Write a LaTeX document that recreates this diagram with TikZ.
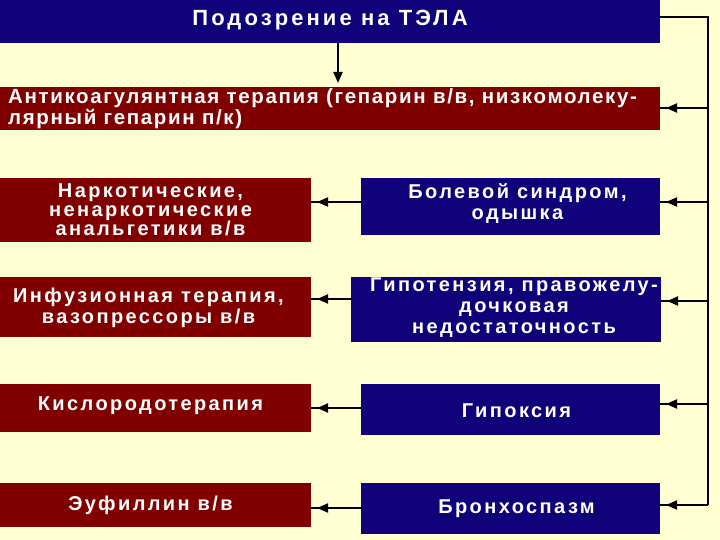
\documentclass[tikz,border=0pt]{standalone}
\usepackage{fontspec}
\setmainfont{Liberation Sans}
\newfontfamily\bxf{Liberation Sans}[LetterSpace=12]
\newfontfamily\bxt{Liberation Sans}[LetterSpace=14]
\newfontfamily\bxa{Liberation Sans}[LetterSpace=8]
\usetikzlibrary{arrows.meta,decorations.markings}
\definecolor{bg}{RGB}{255,255,210}
\definecolor{navy}{RGB}{16,0,122}
\definecolor{wine}{RGB}{128,0,0}
\begin{document}
\begin{tikzpicture}[x=1pt,y=-1pt,
  nbox/.style={fill=navy, anchor=north west, inner sep=0pt, outer sep=0pt},
  rbox/.style={fill=wine, anchor=north west, inner sep=0pt, outer sep=0pt},
  txt/.style={text=white, font=\bxf\bfseries\fontsize{20}{21}\selectfont, align=center, inner sep=0pt},
  wire/.style={draw=black, line width=1.8pt},
  tipmark/.style={postaction={decorate}, decoration={markings, mark=at position -6pt with {\arrow{Triangle[length=11pt,width=9pt]}}}}
  ]
\path[fill=bg, use as bounding box] (0,0) rectangle (720,540);
% boxes
\node[nbox, minimum width=660pt, minimum height=43pt] (top) at (0,0) {};
\node[rbox, minimum width=660pt, minimum height=43pt] (anti) at (0,87) {};
\node[rbox, minimum width=311pt, minimum height=64pt] (nark) at (0,178) {};
\node[rbox, minimum width=311pt, minimum height=60pt] (inf) at (0,277) {};
\node[rbox, minimum width=311pt, minimum height=48pt] (kis) at (0,384) {};
\node[rbox, minimum width=311pt, minimum height=44pt] (euf) at (0,483) {};
\node[nbox, minimum width=299pt, minimum height=57pt] (bol) at (361,178) {};
\node[nbox, minimum width=310pt, minimum height=65pt] (hyp) at (351,277) {};
\node[nbox, minimum width=299pt, minimum height=51pt] (hypox) at (361,384) {};
\node[nbox, minimum width=299pt, minimum height=51pt] (bron) at (361,483) {};
% texts
\node[txt, font=\bxt\bfseries\fontsize{22}{22}\selectfont] (topT) at ([xshift=0pt,yshift=1pt]top.center) {Подозрение на ТЭЛА};
\node[txt, font=\bxa\bfseries\fontsize{20.5}{18.5}\selectfont, align=left, anchor=west] (antiT) at ([xshift=8pt,yshift=0pt]anti.west) {Антикоагулянтная терапия (гепарин в/в, низкомолеку-\\лярный гепарин п/к)};
\node[txt, font=\bxf\bfseries\fontsize{20}{18.5}\selectfont] (narkT) at ([xshift=-5pt]nark.center) {Наркотические,\\ненаркотические\\анальгетики в/в};
\node[txt] (infT) at ([xshift=-7pt,yshift=-1pt]inf.center) {Инфузионная терапия,\\вазопрессоры в/в};
\node[txt] (kisT) at ([xshift=-5pt,yshift=2pt]kis.center) {Кислородотерапия};
\node[txt] (eufT) at ([xshift=-5pt,yshift=0pt]euf.center) {Эуфиллин в/в};
\node[txt] (bolT) at ([xshift=7pt,yshift=3pt]bol.center) {Болевой синдром,\\одышка};
\node[txt] (hypT) at ([xshift=8pt,yshift=2pt]hyp.center) {Гипотензия, правожелу-\\дочковая\\недостаточность};
\node[txt] (hypoxT) at ([xshift=6pt,yshift=-1pt]hypox.center) {Гипоксия};
\node[txt] (bronT) at ([xshift=6pt]bron.center) {Бронхоспазм};
% right bus
\coordinate (c0) at (708,17);
\coordinate (c1) at (708,108);
\coordinate (c2) at (708,202);
\coordinate (c3) at (708,301);
\coordinate (c4) at (708,404);
\coordinate (c5) at (708,505);
\draw[wire, line width=2pt] (top.east |- c0) -- (c0) -- (c5);
\draw[wire, tipmark] (c1) -- (anti.east |- c1);
\draw[wire, tipmark] (c2) -- (bol.east |- c2);
\draw[wire, tipmark] (c3) -- (hyp.east |- c3);
\draw[wire, tipmark] (c4) -- (hypox.east |- c4);
\draw[wire, tipmark] (c5) -- (bron.east |- c5);
% top arrow
\draw[wire, -{Triangle[length=11pt,width=9pt]}, shorten >=4pt] ([xshift=8pt]top.south) -- ([xshift=8pt]anti.north);
% left arrows
\coordinate (l1) at ([yshift=4.5pt]bol.west);
\coordinate (l2) at ([yshift=10.5pt]hyp.west);
\coordinate (l3) at ([yshift=1.5pt]hypox.west);
\coordinate (l4) at ([yshift=0.5pt]bron.west);
\draw[wire, tipmark] (l1) -- (nark.east |- l1);
\draw[wire, tipmark] (l2) -- (inf.east |- l2);
\draw[wire, tipmark] (l3) -- (kis.east |- l3);
\draw[wire, tipmark] (l4) -- (euf.east |- l4);
\end{tikzpicture}
\end{document}
